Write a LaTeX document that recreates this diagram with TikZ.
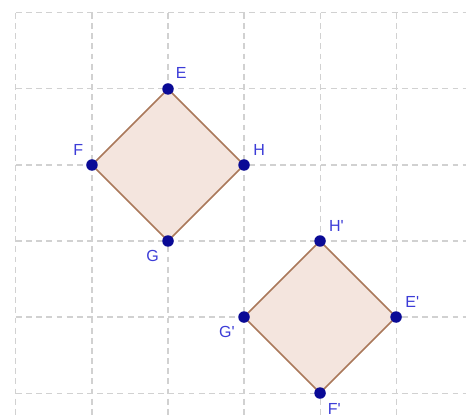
\documentclass[tikz,border=0pt]{standalone}
\usepackage{fontspec}
\setmainfont{Liberation Sans}
\usetikzlibrary{positioning}

\definecolor{ptblue}{RGB}{10,10,150}
\definecolor{lblblue}{RGB}{60,60,215}
\definecolor{sqedge}{RGB}{170,120,90}
\definecolor{sqfill}{RGB}{244,229,222}

\begin{document}
\begin{tikzpicture}[
    gridline/.style={draw=black!18, line width=0.4pt, dash pattern=on 2.2pt off 1.6pt},
    square/.style={draw=sqedge, fill=sqfill, line width=0.6pt, line join=round},
    dot/.style={circle, fill=ptblue, inner sep=0pt, minimum size=4.3pt},
    lbl/.style={text=lblblue, font=\fontsize{6}{7}\selectfont, inner sep=1.5pt},
    label distance=0.2pt,
]

% Frame (page size)
\useasboundingbox (-0.21,-0.33) rectangle (5.92,5.17);

% Dashed grid
\foreach \x in {0,...,5}
    \draw[gridline] (\x,5) -- (\x,-0.33);
\foreach \y in {0,...,5}
    \draw[gridline] (0,\y) -- (5.92,\y);

% Vertices of EFGH
\coordinate (E) at (2,4);
\coordinate (F) at (1,3);
\coordinate (G) at (2,2);
\coordinate (H) at (3,3);

% Vertices of the image E'F'G'H'
\coordinate (Ep) at (5,1);
\coordinate (Fp) at (4,0);
\coordinate (Gp) at (3,1);
\coordinate (Hp) at (4,2);

% Squares
\draw[square] (E) -- (H) -- (G) -- (F) -- cycle;
\draw[square] (Hp) -- (Ep) -- (Fp) -- (Gp) -- cycle;

% Points with labels
\node[dot, label={[lbl]62:E}] (dE) at (E) {};
\node[dot, label={[lbl]130:F}] (dF) at (F) {};
\node[dot, label={[lbl]45:H}] (dH) at (H) {};
\node[dot, label={[lbl]228:G}] (dG) at (G) {};
\node[dot, label={[lbl]48:H\textquotesingle}] (dHp) at (Hp) {};
\node[dot, label={[lbl]45:E\textquotesingle}] (dEp) at (Ep) {};
\node[dot, label={[lbl]225:G\textquotesingle}] (dGp) at (Gp) {};
\node[dot, label={[lbl]-62:F\textquotesingle}] (dFp) at (Fp) {};

\end{tikzpicture}
\end{document}
